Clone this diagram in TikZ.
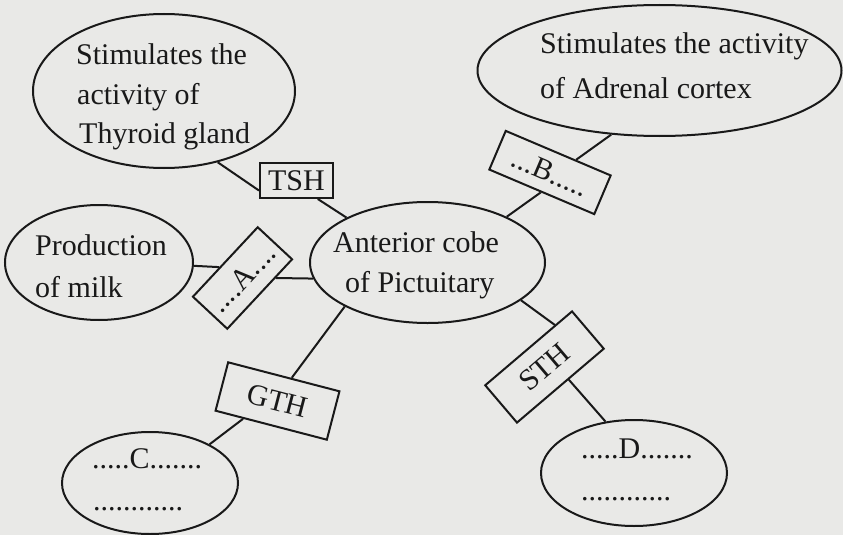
\documentclass[tikz,border=0pt]{standalone}
\usepackage{fontspec}
\setmainfont{Liberation Serif}
\usetikzlibrary{shapes.geometric}
\definecolor{paper}{RGB}{233,233,231}
\definecolor{ink}{RGB}{25,25,25}
\begin{document}
\begin{tikzpicture}[x=1pt,y=-1pt,
  every node/.style={font=\fontsize{30}{39}\selectfont, text=ink},
  oval/.style={draw=ink, ellipse, line width=2pt, inner sep=0pt},
  tag/.style={draw=ink, rectangle, line width=2pt, inner sep=0pt},
  txt/.style={anchor=base west, inner sep=0pt},
  link/.style={draw=ink, line width=2pt}]
\fill[paper] (0,0) rectangle (843,535);
\useasboundingbox (0,0) rectangle (843,535);
% ellipses
\node[oval, minimum width=262pt, minimum height=154pt] (thy) at (164,91) {};
\node[oval, minimum width=364pt, minimum height=131pt] (adr) at (659.5,70.5) {};
\node[oval, minimum width=188pt, minimum height=115pt] (milk) at (99,262.5) {};
\node[oval, minimum width=235pt, minimum height=121pt] (ant) at (427.5,262.5) {};
\node[oval, minimum width=176pt, minimum height=102pt] (c) at (150,483) {};
\node[oval, minimum width=186pt, minimum height=106pt] (d) at (634,473) {};
% hormone boxes
\node[tag, minimum width=73pt, minimum height=35pt] (tsh) at (296.5,180.5) {TSH};
\node[tag, minimum width=114pt, minimum height=42pt, rotate=-23] (b) at (550,172.5) {...B.....};
\node[tag, minimum width=95pt, minimum height=47pt, rotate=47] (a) at (242.5,278) {....A....};
\node[tag, minimum width=115pt, minimum height=50pt, rotate=-14.6] (gth) at (277.5,401) {GTH};
\node[tag, minimum width=114pt, minimum height=49pt, rotate=40.4] (sth) at (544.5,367) {STH};
% texts
\node[txt] (t1) at (76,65) {Stimulates the};
\node[txt] (t2) at (77,104) {activity of};
\node[txt] (t3) at (79,143) {Thyroid gland};
\node[txt] (r1) at (540,53) {Stimulates the activity};
\node[txt] (r2) at (540,98) {of Adrenal cortex};
\node[txt] (m1) at (35,255) {Production};
\node[txt] (m2) at (35,297) {of milk};
\node[txt] (p1) at (333,252) {Anterior cobe};
\node[txt] (p2) at (345,292) {of Pictuitary};
\node[txt] (c1) at (92,468) {.....C.......};
\node[txt] (c2) at (93,510) {............};
\node[txt] (d1) at (581,458) {.....D.......};
\node[txt] (d2) at (581,500) {............};
% connectors
\draw[link] (thy.-53.6) -- (tsh.-165.4);
\draw[link] (tsh.-41.9) -- (ant.151.5);
\draw[link] (adr.-127) -- (b.49.5);
\draw[link] (b.-92) -- (ant.30.4);
\draw[link] (milk.-2.8) -- (a.108.4);
\draw[link] (a.-47) -- (ant.-172);
\draw[link] (ant.-152.9) -- (gth.73.7);
\draw[link] (gth.-138.9) -- (c.33.5);
\draw[link] (ant.-22.4) -- (sth.36);
\draw[link] (sth.-68.6) -- (d.119.6);
\end{tikzpicture}
\end{document}
